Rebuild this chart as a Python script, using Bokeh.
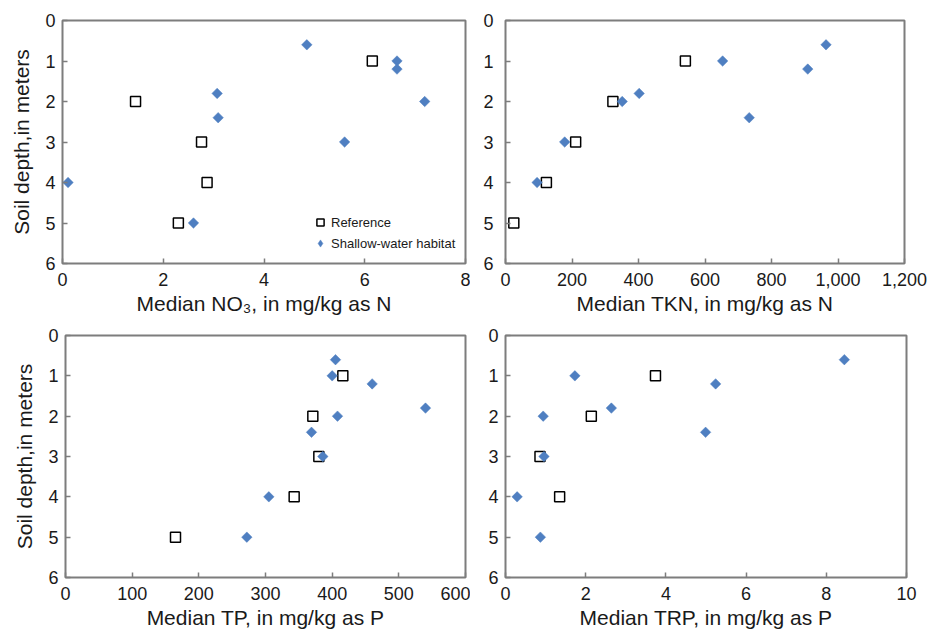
from bokeh.plotting import figure
from bokeh.layouts import column, row
from bokeh.models import Range1d, FixedTicker, NumeralTickFormatter, Legend, LegendItem
from bokeh.embed import file_html
from bokeh.resources import INLINE
import math

nan = float("nan")

# Soil depths (meters)
depth_ref = [1.0, 2.0, 3.0, 4.0, 5.0]
depth_shallow = [0.6, 1.0, 1.2, 1.8, 2.0, 2.4, 3.0, 4.0, 5.0]

# Median NO3 (mg/kg as N)
no3_ref = [6.15, 1.45, 2.76, 2.87, 2.30]
no3_shallow = [4.85, 6.64, 6.64, 3.07, 7.19, 3.09, 5.60, 0.11, 2.60]

# Median TKN (mg/kg as N)
tkn_ref = [541, 323, 211, 123, 25]
tkn_shallow = [964, 653, 909, 402, 351, 733, 178, 95, nan]

# Median TP (mg/kg as P)
tp_ref = [416, 371, 380, 343, 165]
tp_shallow = [405, 400, 460, 540, 408, 369, 386, 305, 272]

# Median TRP (mg/kg as P)
trp_ref = [3.74, 2.14, 0.86, 1.35, nan]
trp_shallow = [8.45, 1.73, 5.24, 2.64, 0.94, 4.99, 0.96, 0.29, 0.87]

depth_ticks = [0, 1, 2, 3, 4, 5, 6]
no3_ticks = [0, 2, 4, 6, 8]
tkn_ticks = [0, 200, 400, 600, 800, 1000, 1200]
tp_ticks = [0, 100, 200, 300, 400, 500, 600]
trp_ticks = [0, 2, 4, 6, 8, 10]

legend_labels = ["Reference", "Shallow-water habitat"]

FONT = "Liberation Sans"
GRAY = "#7d7d7d"
BLUE = "#4f7fc1"
TXT = "#1a1a1a"


def make(xmax, xticks, xlabel, ylabel, w, h, left, right, top, bottom, ystand, fmt=None):
    p = figure(width=w, height=h, x_range=Range1d(0, xmax), y_range=Range1d(6, 0),
               output_backend="svg", toolbar_location=None, title=None,
               min_border_left=left, min_border_right=right,
               min_border_top=top, min_border_bottom=bottom)
    p.xgrid.visible = False
    p.ygrid.visible = False
    p.outline_line_color = GRAY
    p.outline_line_width = 2
    p.background_fill_color = "white"
    p.border_fill_color = "white"
    p.xaxis.ticker = FixedTicker(ticks=xticks)
    p.yaxis.ticker = FixedTicker(ticks=depth_ticks)
    if fmt is not None:
        p.xaxis.formatter = NumeralTickFormatter(format=fmt)
    for ax in (p.xaxis, p.yaxis):
        ax.axis_line_color = None
        ax.major_tick_line_color = GRAY
        ax.major_tick_line_width = 1.5
        ax.major_tick_in = 5
        ax.major_tick_out = 0
        ax.minor_tick_line_color = None
        ax.major_label_text_font = FONT
        ax.major_label_text_font_size = "18px"
        ax.major_label_text_color = TXT
        ax.axis_label_text_font = FONT
        ax.axis_label_text_font_size = "21px"
        ax.axis_label_text_font_style = "normal"
        ax.axis_label_text_color = TXT
    p.xaxis.axis_label = xlabel
    p.xaxis.major_label_standoff = 9
    p.xaxis.axis_label_standoff = 3
    p.yaxis.major_label_standoff = ystand
    if ylabel:
        p.yaxis.axis_label = ylabel
        p.yaxis.axis_label_standoff = 9
    return p


def add_points(p, xref, xsh):
    r1 = p.scatter(xref, depth_ref, marker="square", size=10, fill_color="white",
                   line_color="black", line_width=1.5)
    r2 = p.scatter(xsh, depth_shallow, marker="square", angle=math.pi / 4, size=7.4,
                   fill_color=BLUE, line_color=BLUE, line_width=0.5)
    return r1, r2


p1 = make(8, no3_ticks, "Median NO\u2083, in mg/kg as N", "Soil depth,in meters",
          470, 318, 62, 5, 20, 55, 7)
r1, r2 = add_points(p1, no3_ref, no3_shallow)
# legend key for the diamonds (legend keys are drawn unrotated, so use a diamond marker);
# its single point is NaN so nothing is drawn in the plot area
key_sh = p1.scatter([nan], [nan], marker="diamond", size=8, fill_color=BLUE,
                    line_color=BLUE, line_width=0.5)
legend = Legend(items=[LegendItem(label=legend_labels[0], renderers=[r1]),
                       LegendItem(label=legend_labels[1], renderers=[key_sh])],
                location=(249, 10), border_line_color=None, background_fill_alpha=0,
                padding=0, margin=0, spacing=1, glyph_width=18, glyph_height=20,
                label_standoff=2, label_text_font=FONT, label_text_font_size="13px",
                label_text_color=TXT)
p1.add_layout(legend)

p2 = make(1200, tkn_ticks, "Median TKN, in mg/kg as N", None,
          458, 318, 35, 24, 20, 55, 12, fmt="0,0")
add_points(p2, tkn_ref, tkn_shallow)

p3 = make(600, tp_ticks, "Median TP, in mg/kg as P", "Soil depth,in meters",
          470, 315, 65, 5, 17, 56, 7)
add_points(p3, tp_ref, tp_shallow)

p4 = make(10, trp_ticks, "Median TRP, in mg/kg as P", None,
          458, 315, 35, 22, 17, 56, 7)
add_points(p4, trp_ref, trp_shallow)

layout = column(row(p1, p2), row(p3, p4))

open("out.html", "w").write(file_html(layout, INLINE))
